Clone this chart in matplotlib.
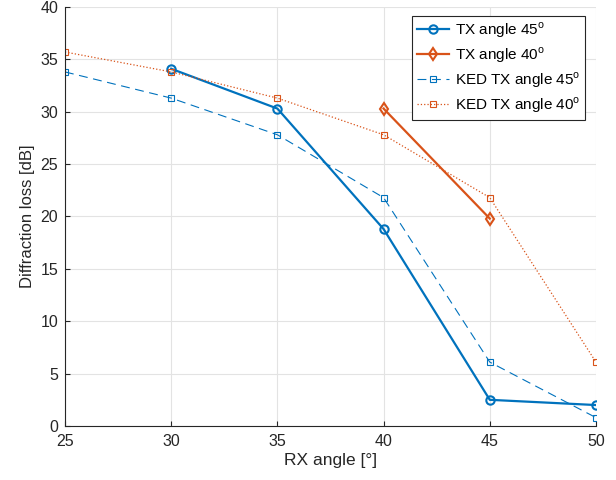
import matplotlib

matplotlib.use("Agg")
import matplotlib.pyplot as plt

# RX angles [deg]
rx_all = [25, 30, 35, 40, 45, 50]
rx_tx45 = [30, 35, 40, 45, 50]
rx_tx40 = [40, 45]

# measured diffraction loss [dB]
tx45_loss = [34.1, 30.3, 18.8, 2.5, 2.0]
tx40_loss = [30.3, 19.8]

# knife-edge diffraction model [dB]
ked45_loss = [33.8, 31.3, 27.8, 21.8, 6.1, 0.8]
ked40_loss = [35.7, 33.8, 31.3, 27.8, 21.8, 6.1]

blue = "#0072BD"
orange = "#D95319"

plt.rcParams["font.family"] = ["Liberation Sans", "DejaVu Sans"]
plt.rcParams["mathtext.fontset"] = "custom"
plt.rcParams["mathtext.rm"] = "Liberation Sans"

fig = plt.figure(figsize=(6.16, 4.8), dpi=100)
ax = fig.add_axes([0.1055, 0.1125, 0.862, 0.873])

ax.plot(rx_tx45, tx45_loss, "-o", color=blue, lw=1.6, ms=6, mfc="none", mew=1.5,
        label=r"TX angle 45$^{\rm o}$")
ax.plot(rx_tx40, tx40_loss, "-d", color=orange, lw=1.6, ms=6, mfc="none", mew=1.5,
        label=r"TX angle 40$^{\rm o}$")
ax.plot(rx_all, ked45_loss, "--s", color=blue, lw=0.8, ms=4.5, mfc="none", mew=0.8,
        dashes=(8, 5), label=r"KED TX angle 45$^{\rm o}$")
ax.plot(rx_all, ked40_loss, ":s", color=orange, lw=0.9, ms=4.5, mfc="none", mew=0.8,
        label=r"KED TX angle 40$^{\rm o}$")

ax.set_xlim(25, 50)
ax.set_ylim(0, 40)
ax.set_xticks(rx_all)
ax.set_yticks(range(0, 41, 5))
ax.grid(True, color="#e3e3e3", lw=0.8)
ax.set_axisbelow(True)
for side in ("top", "right"):
    ax.spines[side].set_visible(False)
for side in ("left", "bottom"):
    ax.spines[side].set_color("#262626")
ax.tick_params(direction="in", length=3.5, labelsize=11.5, colors="#262626")
ax.tick_params(axis="y", pad=5)
ax.tick_params(axis="x", pad=6)
ax.set_xlabel("RX angle [°]", fontsize=12.5, color="#262626", labelpad=3)
ax.set_ylabel("Diffraction loss [dB]", fontsize=12, color="#262626")

leg = ax.legend(loc="upper right", bbox_to_anchor=(0.979, 0.979), fontsize=11,
                fancybox=False, framealpha=1, edgecolor="#262626",
                handlelength=2.1, handletextpad=0.4, borderpad=0.3,
                labelspacing=0.35, borderaxespad=0)
leg.get_frame().set_linewidth(0.8)

fig.savefig("out.png", dpi=100)
